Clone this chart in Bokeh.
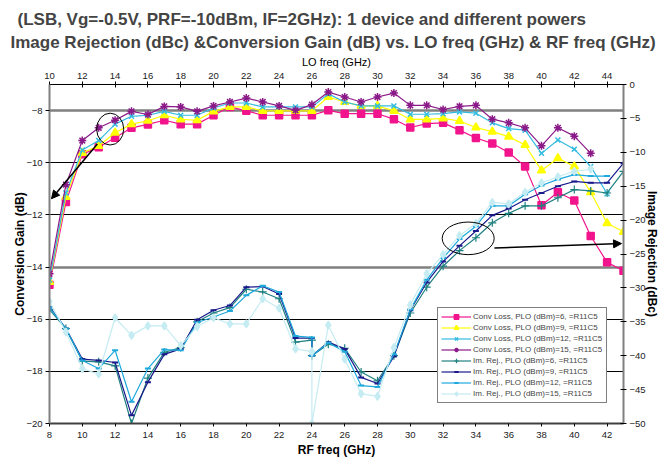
from bokeh.plotting import figure
from bokeh.models import (Range1d, LinearAxis, FixedTicker, Grid, Legend, LegendItem,
                          Arrow, NormalHead, Title, ColumnDataSource)
from bokeh.embed import file_html
from bokeh.resources import INLINE

TITLE1 = "(LSB, Vg=-0.5V, PRF=-10dBm, IF=2GHz): 1 device and different powers"
TITLE2 = "Image Rejection (dBc) &Conversion Gain (dB)  vs. LO freq (GHz) & RF freq (GHz)"

# Conversion loss series vs LO frequency (GHz) -> left axis (dB)
lo_6 = list(range(10, 46))
cl_6 = [-14.68, -11.51, -9.67, -9.41, -9.04, -8.66, -8.53, -8.37, -8.52, -8.52, -8.18, -7.86,
        -8.01, -8.18, -8.18, -8.18, -8.18, -7.99, -8.12, -8.12, -8.12, -8.33, -8.65, -8.50,
        -8.47, -8.75, -9.05, -9.26, -9.61, -10.14, -11.63, -11.13, -11.45, -12.81, -13.82, -14.14]
lo_9 = list(range(10, 46))
cl_9 = [-14.57, -11.31, -9.62, -9.36, -8.85, -8.52, -8.39, -8.18, -8.34, -8.37, -8.03, -7.86,
        -7.86, -8.01, -8.01, -8.01, -8.01, -7.48, -7.67, -7.82, -7.82, -8.01, -8.34, -8.34,
        -8.30, -8.40, -8.65, -8.81, -9.00, -9.32, -10.30, -9.83, -10.14, -11.13, -12.32, -12.65]
lo_12 = list(range(10, 45))
cl_12 = [-14.50, -11.16, -9.51, -9.15, -8.52, -8.22, -8.18, -8.03, -8.18, -8.18, -7.90, -7.71,
         -7.71, -7.86, -7.86, -7.86, -7.86, -7.36, -7.67, -7.82, -7.82, -7.82, -8.14, -8.14,
         -8.12, -8.05, -8.10, -8.47, -8.69, -8.75, -9.64, -9.13, -9.48, -10.14, -11.19]
lo_15 = list(range(10, 44))
cl_15 = [-14.26, -10.84, -9.15, -8.66, -8.37, -8.03, -8.15, -7.84, -7.86, -8.03, -7.82, -7.67,
         -7.52, -7.67, -7.82, -7.99, -7.77, -7.29, -7.48, -7.67, -7.48, -7.33, -7.80, -7.80,
         -7.96, -7.84, -7.80, -8.33, -8.47, -8.66, -9.35, -8.66, -8.98, -9.64]

# Image rejection series vs RF frequency (GHz) -> right axis (dBc)
rf_ir = list(range(8, 25)) + list(range(24, 44))
ir_6 = [-33.2, -36.0, -40.8, -40.9, -41.5, -50.0, -43.3, -39.5, -38.8, -35.0, -33.7, -32.9,
        -30.2, -30.6, -31.6, -38.0, -37.7, -40.0, -38.3, -38.9, -42.4, -43.7, -40.0, -33.7,
        -29.9, -26.8, -24.5, -22.6, -20.4, -19.0, -17.9, -17.9, -16.7, -15.5, -15.7, -16.0, -12.8]
ir_9 = [-32.8, -36.0, -40.5, -40.7, -41.0, -48.8, -43.9, -39.8, -39.0, -34.7, -33.3, -32.6,
        -29.9, -29.8, -30.9, -37.4, -37.4, -40.0, -38.0, -39.0, -43.2, -44.1, -40.1, -33.3,
        -29.2, -26.1, -23.8, -21.6, -19.3, -18.3, -17.0, -16.0, -15.0, -14.3, -14.5, -14.5, -11.6]
ir_12 = [-32.9, -36.0, -40.7, -41.9, -39.2, -46.8, -41.9, -39.1, -39.2, -35.1, -34.3, -33.4,
         -31.1, -29.7, -30.6, -37.1, -37.3, -40.0, -38.1, -39.4, -44.4, -44.6, -39.8, -33.2,
         -28.8, -25.6, -22.8, -20.9, -17.9, -17.9, -16.2, -14.9, -14.0, -13.3, -13.5, -13.5]
ir_15 = [-32.0, -36.5, -41.9, -42.7, -34.4, -37.0, -35.6, -35.6, -38.5, -35.7, -34.4, -35.3,
         -35.3, -31.6, -33.0, -39.0, -39.4, -50.0, -35.5, -40.5, -45.6, -46.0, -38.8, -32.5,
         -27.9, -25.1, -22.3, -20.5, -17.4, -17.6, -15.9, -14.5, -13.6, -12.8, -12.5]

LABELS = ["Conv Loss, PLO (dBm)=6, =R11C5", "Conv Loss, PLO (dBm)=9, =R11C5",
          "Conv Loss, PLO (dBm)=12, =R11C5", "Conv Loss, PLO (dBm)=15, =R11C5",
          "Im. Rej., PLO (dBm)=6, =R11C5", "Im. Rej., PLO (dBm)=9, =R11C5",
          "Im. Rej., PLO (dBm)=12, =R11C5", "Im. Rej., PLO (dBm)=15, =R11C5"]

RF_TICKS = list(range(8, 43, 2))
LO_TICKS = list(range(10, 45, 2))
CG_TICKS = list(range(-20, -7, 2))
IR_TICKS = list(range(-50, 1, 5))

# annotation shapes (data units of RF / conversion gain axes)
ELL_X = [11.7, 33.53]
ELL_Y = [-8.71, -12.90]
ELL_W = [1.65, 3.17]
ELL_H = [1.22, 1.25]
ARROWS = [(10.92, -9.28, 8.12, -11.38), (35.13, -13.27, 42.88, -13.10)]

FONT = "Liberation Sans"

p = figure(width=672, height=459, x_range=Range1d(8, 43), y_range=Range1d(-20, -7),
           output_backend="svg", toolbar_location=None, title=None,
           min_border_left=49, min_border_right=49, min_border_top=84, min_border_bottom=33,
           background_fill_color="white", border_fill_color="white")
p.extra_x_ranges = {"lo": Range1d(10, 45)}
p.extra_y_ranges = {"ir": Range1d(-50, 0)}
p.outline_line_color = None
p.xgrid.visible = False
p.ygrid.visible = False

right_ax = LinearAxis(y_range_name="ir", ticker=FixedTicker(ticks=IR_TICKS),
                      axis_label="Image Rejection (dBc)")
p.add_layout(right_ax, "right")
top_ax = LinearAxis(x_range_name="lo", ticker=FixedTicker(ticks=LO_TICKS), axis_label="LO freq (GHz)")
p.add_layout(top_ax, "above")

bottom_ax = p.below[0]
left_ax = p.left[0]
bottom_ax.ticker = FixedTicker(ticks=RF_TICKS)
bottom_ax.axis_label = "RF freq (GHz)"
left_ax.ticker = FixedTicker(ticks=CG_TICKS)
left_ax.axis_label = "Conversion Gain (dB)"

for ax in (bottom_ax, left_ax, right_ax, top_ax):
    ax.major_label_text_font = FONT
    ax.major_label_text_font_size = "9.5px"
    ax.major_label_text_color = "#222222"
    ax.axis_label_text_font = FONT
    ax.axis_label_text_font_size = "12px"
    ax.axis_label_text_font_style = "bold"
    ax.axis_label_text_color = "black"
    ax.minor_tick_line_color = None
    ax.major_tick_line_color = "black"

left_ax.axis_line_color = "#808080"
left_ax.axis_line_width = 2
left_ax.major_tick_in = 0
left_ax.major_tick_out = 4
left_ax.major_label_standoff = 3
left_ax.axis_label_standoff = -4

right_ax.axis_line_color = "#808080"
right_ax.axis_line_width = 2
right_ax.major_tick_in = 3
right_ax.major_tick_out = 3
right_ax.major_label_standoff = 3
right_ax.axis_label_standoff = -4

top_ax.axis_line_color = "black"
top_ax.axis_line_width = 1
top_ax.major_tick_in = 3
top_ax.major_tick_out = 3
top_ax.major_label_standoff = 3
top_ax.axis_label_standoff = 2
top_ax.axis_label_text_font_style = "normal"
top_ax.axis_label_text_font_size = "11px"

bottom_ax.axis_line_color = "#404040"
bottom_ax.axis_line_width = 2
bottom_ax.major_tick_in = 0
bottom_ax.major_tick_out = 3
bottom_ax.major_label_standoff = 5
bottom_ax.axis_label_standoff = 2

g1 = Grid(dimension=1, ticker=FixedTicker(ticks=[-10, -12, -16, -18]),
          grid_line_color="black", grid_line_width=1)
g2 = Grid(dimension=1, ticker=FixedTicker(ticks=[-8, -14]),
          grid_line_color="#808080", grid_line_width=2.5)
p.add_layout(g1)
p.add_layout(g2)

t2 = Title(text=TITLE2, align="left", offset=-39, text_font=FONT, text_font_size="17px",
           text_font_style="bold", standoff=2)
t1 = Title(text=TITLE1, align="left", offset=-32, text_font=FONT, text_font_size="17px",
           text_font_style="bold", standoff=2)
p.add_layout(t2, "above")
p.add_layout(t1, "above")

items = []
conv = [(lo_6, cl_6, "#F2148C", "square", 7), (lo_9, cl_9, "#FFFF00", "triangle", 8),
        (lo_12, cl_12, "#33BBE0", "x", 7), (lo_15, cl_15, "#8B1A89", "asterisk", 8)]
imrej = [(rf_ir, ir_6, "#1F8080", "cross", 8), (rf_ir, ir_9, "#1A1A8C", "dash", 6),
         (rf_ir[:len(ir_12)], ir_12, "#1EA8DC", "dash", 6), (rf_ir[:len(ir_15)], ir_15, "#C4ECF2", "diamond", 8)]

k = 0
for xs, ys, col, mk, sz in conv:
    src = ColumnDataSource(dict(x=xs, y=ys))
    r1 = p.line("x", "y", source=src, x_range_name="lo", line_color=col, line_width=1.2)
    r2 = p.scatter("x", "y", source=src, x_range_name="lo", marker=mk, size=sz,
                   fill_color=col, line_color=col, line_width=1.5)
    items.append(LegendItem(label=LABELS[k], renderers=[r1, r2]))
    k += 1
for xs, ys, col, mk, sz in imrej:
    src = ColumnDataSource(dict(x=xs, y=ys))
    r1 = p.line("x", "y", source=src, y_range_name="ir", line_color=col, line_width=1.2)
    r2 = p.scatter("x", "y", source=src, y_range_name="ir", marker=mk, size=sz,
                   fill_color=col, line_color=col, line_width=2 if mk == "dash" else 1.2)
    items.append(LegendItem(label=LABELS[k], renderers=[r1, r2]))
    k += 1

p.ellipse(x=ELL_X, y=ELL_Y, width=ELL_W, height=ELL_H, fill_color=None,
          line_color="black", line_width=1)
for xs, ys, xe, ye in ARROWS:
    p.add_layout(Arrow(x_start=xs, y_start=ys, x_end=xe, y_end=ye, line_color="black",
                       line_width=1.5, level="overlay",
                       end=NormalHead(size=8, fill_color="black", line_color="black")))

legend = Legend(items=items, location=(388, 20), label_text_font=FONT, label_text_font_size="8px",
                glyph_width=30, glyph_height=11, label_height=11, spacing=0, padding=3, margin=0,
                label_standoff=2, label_width=130, border_line_color="black", border_line_width=1,
                background_fill_alpha=1.0)
p.add_layout(legend)

open("out.html", "w").write(file_html(p, INLINE))
